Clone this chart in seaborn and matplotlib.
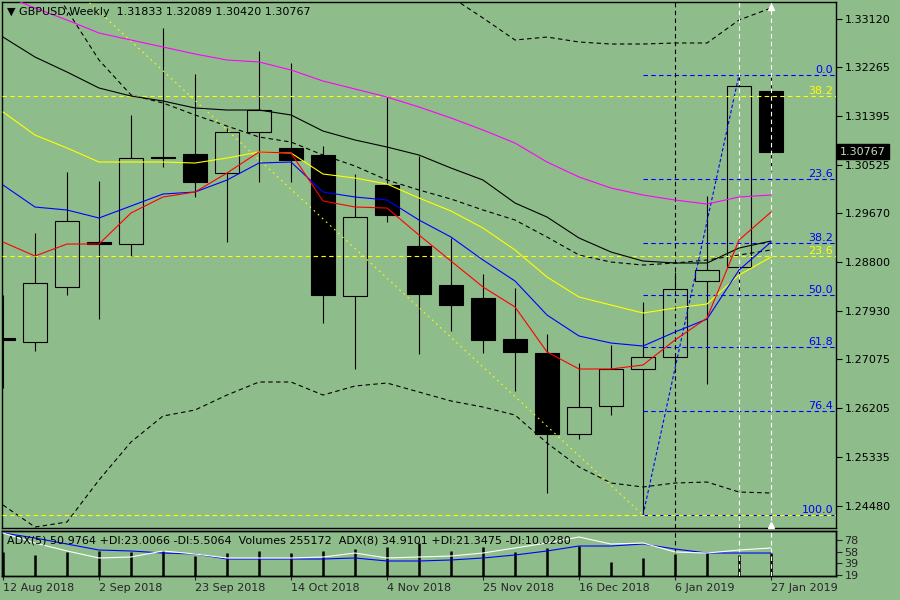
import numpy as np
import pandas as pd
import matplotlib
matplotlib.use("Agg")
import matplotlib.pyplot as plt
import matplotlib.transforms as mtransforms
import seaborn as sns

# ---------------- data ----------------
weeks = ["12 Aug 2018", "19 Aug 2018", "26 Aug 2018", "2 Sep 2018", "9 Sep 2018",
         "16 Sep 2018", "23 Sep 2018", "30 Sep 2018", "7 Oct 2018", "14 Oct 2018",
         "21 Oct 2018", "28 Oct 2018", "4 Nov 2018", "11 Nov 2018", "18 Nov 2018",
         "25 Nov 2018", "2 Dec 2018", "9 Dec 2018", "16 Dec 2018", "23 Dec 2018",
         "30 Dec 2018", "6 Jan 2019", "13 Jan 2019", "20 Jan 2019", "27 Jan 2019"]
open_ = [1.27456, 1.27385, 1.28362, 1.29152, 1.29125, 1.30670, 1.30723, 1.30386, 1.31114, 1.30830,
         1.30705, 1.28202, 1.30173, 1.29090, 1.28397, 1.28166, 1.27438, 1.27190, 1.25752, 1.26249,
         1.26906, 1.27119, 1.28468, 1.28717, 1.31833]
high = [1.28220, 1.29320, 1.30404, 1.30244, 1.31416, 1.32960, 1.32144, 1.31185, 1.32552, 1.32339,
        1.30865, 1.30368, 1.31735, 1.30688, 1.29232, 1.28592, 1.28344, 1.27527, 1.27012, 1.27332,
        1.28095, 1.28628, 1.29977, 1.32131, 1.32089]
low = [1.26568, 1.27225, 1.28220, 1.27794, 1.28912, 1.30492, 1.29960, 1.29161, 1.30226, 1.30226,
       1.27722, 1.26906, 1.29516, 1.27172, 1.27580, 1.27190, 1.26515, 1.24704, 1.25663, 1.26089,
       1.24313, 1.26994, 1.26639, 1.28237, 1.30420]
close = [1.27421, 1.28433, 1.29534, 1.29134, 1.30652, 1.30652, 1.30226, 1.31114, 1.31504, 1.30617,
         1.28220, 1.29604, 1.29640, 1.28237, 1.28042, 1.27421, 1.27208, 1.25752, 1.26231, 1.26906,
         1.27119, 1.28326, 1.28663, 1.31930, 1.30767]

ma_magenta = [1.33546, 1.33315, 1.33102, 1.32871, 1.32747, 1.32623, 1.32499, 1.32392, 1.32357, 1.32215,
              1.32019, 1.31877, 1.31735, 1.31558, 1.31362, 1.31149, 1.30918, 1.30581, 1.30315, 1.30119,
              1.29995, 1.29906, 1.29835, 1.29960, 1.29995]
ma_black = [1.32800, 1.32445, 1.32179, 1.31895, 1.31753, 1.31664, 1.31540, 1.31504, 1.31504, 1.31416,
            1.31131, 1.30972, 1.30847, 1.30705, 1.30474, 1.30261, 1.29853, 1.29604, 1.29232, 1.28983,
            1.28823, 1.28788, 1.28788, 1.29054, 1.29178]
ma_yellow = [1.31469, 1.31060, 1.30830, 1.30581, 1.30581, 1.30581, 1.30563, 1.30652, 1.30759, 1.30741,
             1.30368, 1.30297, 1.30190, 1.29942, 1.29711, 1.29409, 1.29019, 1.28539, 1.28184, 1.28042,
             1.27900, 1.27989, 1.28060, 1.28575, 1.28894]
ma_blue = [1.30173, 1.29782, 1.29729, 1.29587, 1.29800, 1.30013, 1.30048, 1.30261, 1.30563, 1.30581,
           1.30048, 1.29960, 1.29906, 1.29551, 1.29249, 1.28841, 1.28468, 1.27864, 1.27492, 1.27367,
           1.27314, 1.27563, 1.27793, 1.28663, 1.29161]
ma_red = [1.29161, 1.28912, 1.29125, 1.29125, 1.29676, 1.29960, 1.30048, 1.30386, 1.30759, 1.30741,
          1.29889, 1.29782, 1.29764, 1.29285, 1.28823, 1.28362, 1.28007, 1.27208, 1.26906, 1.26906,
          1.26977, 1.27421, 1.27811, 1.29196, 1.29693]
bb_mid = [1.35055, 1.34168, 1.33280, 1.32392, 1.31771, 1.31629, 1.31416, 1.31220, 1.31025, 1.30936,
          1.30705, 1.30510, 1.30261, 1.30084, 1.29924, 1.29729, 1.29551, 1.29249, 1.28930, 1.28805,
          1.28752, 1.28788, 1.28841, 1.28930, 1.29019]
bb_low = [1.24491, 1.24100, 1.24189, 1.24935, 1.25610, 1.26071, 1.26178, 1.26444, 1.26675, 1.26675,
          1.26444, 1.26604, 1.26657, 1.26497, 1.26338, 1.26231, 1.26089, 1.25592, 1.25166, 1.24882,
          1.24811, 1.24882, 1.24899, 1.24722, 1.24704]
bb_up = [np.nan] * 12 + [1.33866, 1.33670, 1.33511, 1.33138, 1.32747, 1.32800, 1.32712, 1.32676,
                         1.32676, 1.32694, 1.32694, 1.33102, 1.33315]

adx_blue = [89.7, 81.3, 71.3, 61.3, 59.7, 56.3, 54.7, 46.3, 46.3, 46.3, 46.3, 48.0, 43.0, 43.0, 44.7,
            48.0, 53.0, 59.7, 68.0, 68.0, 71.3, 63.0, 56.3, 56.3, 56.3]
adx_white = [89.7, 73.0, 59.7, 48.0, 49.7, 59.7, 54.7, 48.0, 48.0, 48.0, 49.7, 56.3, 48.0, 49.7, 51.3,
             56.3, 64.7, 73.0, 83.0, 71.3, 73.0, 58.0, 56.3, 61.3, 64.7]
volumes = [265800, 233900, 265800, 276400, 265800, 287100, 223300, 255200, 276400, 255200,
           276400, 297700, 319000, 361500, 276400, 319000, 265800, 308300, 329600, 159500,
           202000, 244500, 265800, 233900, 255172]

price_ticks = [1.33120, 1.32265, 1.31395, 1.30525, 1.29670, 1.28800, 1.27930, 1.27075,
               1.26205, 1.25335, 1.24480]
date_tick_idx = [0, 3, 6, 9, 12, 15, 18, 21, 24]
fib_levels = [0.0, 23.6, 38.2, 50.0, 61.8, 76.4, 100.0]
yfib_levels = [0.0, 23.6, 38.2]
yfib_high = 1.4377          # April 2018 high (anchor of the yellow fibo), 17 weeks before first bar
yfib_high_idx = -17
title = "GBPUSD,Weekly  1.31833 1.32089 1.30420 1.30767"
ind_title = "ADX(5) 50.9764 +DI:23.0066 -DI:5.5064  Volumes 255172  ADX(8) 34.9101 +DI:21.3475 -DI:10.0280"

# ---------------- style ----------------
BG = "#8FBC8B"
sns.set_style("ticks", {"axes.facecolor": BG, "figure.facecolor": BG,
                        "axes.edgecolor": "black"})
plt.rcParams["font.family"] = ["DejaVu Sans"]
plt.rcParams["font.size"] = 8

W, H = 900, 600
def rect(l, t, r, b):
    return [l / W, 1 - b / H, (r - l) / W, (b - t) / H]

fig = plt.figure(figsize=(9, 6), dpi=100, facecolor=BG)
ax = fig.add_axes(rect(2, 2, 836, 528))
ax2 = fig.add_axes(rect(2, 531, 836, 576))

x = np.arange(len(weeks))
df = pd.DataFrame({"x": x, "open": open_, "high": high, "low": low, "close": close,
                   "magenta": ma_magenta, "black": ma_black, "yellow": ma_yellow,
                   "blue": ma_blue, "red": ma_red, "mid": bb_mid, "lo": bb_low, "up": bb_up,
                   "adx_b": adx_blue, "adx_w": adx_white, "vol": volumes})

XL = (-0.031, 26.03)
YL = (1.24083, 1.33422)
DASH = (0, (4, 3))
LW = 0.8

# ---------- main panel ----------
# candles
ax.vlines(df.x, df.low, df.high, color="black", lw=LW, zorder=2)
up = df.close >= df.open
body_h = (df.close - df.open).abs().clip(lower=0.00012)
ax.bar(df.x, body_h, bottom=df[["open", "close"]].min(axis=1), width=0.75,
       color=np.where(up, BG, "black"), edgecolor="black", linewidth=LW, zorder=3)

# moving averages
for col, c in [("magenta", "#FF00FF"), ("black", "black"), ("yellow", "#FFFF00"),
               ("blue", "#0000FF"), ("red", "#FF0000")]:
    sns.lineplot(data=df, x="x", y=col, color=c, lw=LW, ax=ax, zorder=5)
for col in ["mid", "lo", "up"]:
    sns.lineplot(data=df, x="x", y=col, color="black", lw=LW, ls=DASH, ax=ax, zorder=4)

# blue fibonacci retracement (30 Dec low -> 20 Jan high)
fhi, flo = high[23], low[20]
for lv in fib_levels:
    p = fhi - (fhi - flo) * lv / 100
    ax.hlines(p, 20, XL[1], colors="#0000FF", lw=LW, linestyles=DASH, zorder=4)
    ax.text(25.94, p, f"{lv:.1f}", color="#0000FF", ha="right", va="bottom", fontsize=8, zorder=7)
ax.plot([20, 23], [flo, fhi], color="#0000FF", lw=LW, ls=(0, (3, 2)), zorder=4)

# yellow fibonacci (April high -> 30 Dec low)
for lv in yfib_levels:
    p = flo + (yfib_high - flo) * lv / 100
    ax.axhline(p, color="#FFFF00", lw=LW, ls=DASH, zorder=4)
    if lv > 0:
        ax.text(25.94, p, f"{lv:.1f}", color="#FFFF00", ha="right", va="bottom", fontsize=8, zorder=7)
ax.plot([yfib_high_idx, 20], [yfib_high, flo], color="#FFFF00", lw=LW, ls=(0, (1.5, 3.5)), zorder=4)

# vertical lines
for a in (ax, ax2):
    a.axvline(21, color="black", lw=LW, ls=DASH, zorder=4)
    a.axvline(23, color="white", lw=LW, ls=DASH, zorder=4)
    a.axvline(24, color="white", lw=LW, ls=DASH, zorder=4)
ax.plot([24], [YL[1] - 0.0009], marker="^", color="white", ms=4, zorder=8, clip_on=False)
ax.plot([24], [YL[0] + 0.0005], marker="^", color="white", ms=4, zorder=8, clip_on=False)

ax.set_xlim(*XL)
ax.set_ylim(*YL)
ax.set_xticks([])
ax.set_xlabel("")
ax.set_ylabel("")
ax.yaxis.tick_right()
ax.set_yticks(price_ticks)
ax.set_yticklabels([f"{p:.5f}" for p in price_ticks])
ax.tick_params(axis="y", direction="out", length=4, width=0.8, labelsize=8, pad=2, colors="black")
for s in ax.spines.values():
    s.set_visible(True); s.set_color("black"); s.set_linewidth(1)

# current price tag
tr = mtransforms.blended_transform_factory(ax.transAxes, ax.transData)
ax.text(1 + 4 / 834, close[-1], f"{close[-1]:.5f}", transform=tr, ha="left", va="center",
        fontsize=8, color="#C4DCC0", zorder=9,
        bbox=dict(boxstyle="square,pad=0.25", fc="black", ec="black"))

fig.text(7 / W, 1 - 12 / H, "\u25BC " + title, fontsize=8, va="center", ha="left", color="black")

# ---------- indicator panel ----------
ax3 = ax2.twinx()
ax3.vlines(df.x, 0, df.vol, color="black", lw=1.8, zorder=2)
ax3.set_ylim(0, 255172 * 45 / 23)
ax3.set_yticks([])
ax3.set_ylabel("")
ax2.set_zorder(ax3.get_zorder() + 1)
ax2.patch.set_visible(False)
sns.lineplot(data=df, x="x", y="adx_b", color="#0000FF", lw=LW, ax=ax2, zorder=5)
sns.lineplot(data=df, x="x", y="adx_w", color="white", lw=LW, ax=ax2, zorder=5)
ax2.set_xlim(*XL)
ax2.set_ylim(18, 93)
ax2.yaxis.tick_right()
ax2.set_yticks([78, 58, 39, 19])
ax2.tick_params(axis="y", direction="out", length=4, width=0.8, labelsize=8, pad=2)
ax2.set_xticks(date_tick_idx)
ax2.set_xticklabels([weeks[i] for i in date_tick_idx], ha="left")
ax2.tick_params(axis="x", direction="out", length=3, width=0.8, labelsize=8, pad=2)
ax2.set_xlabel(""); ax2.set_ylabel("")
for a in (ax2, ax3):
    for s in a.spines.values():
        s.set_visible(True); s.set_color("black"); s.set_linewidth(1)
ax2.text(0.006, 0.78, ind_title, transform=ax2.transAxes, fontsize=8, va="center",
         ha="left", color="black", zorder=9)

fig.savefig("out.png", dpi=100, facecolor=BG)
